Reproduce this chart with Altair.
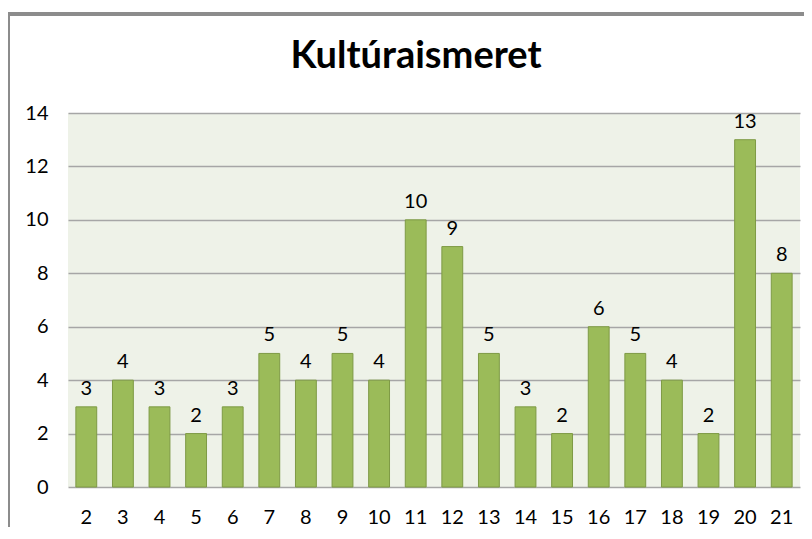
import altair as alt
import pandas as pd

title_text = "Kultúraismeret"
categories = [str(i) for i in range(2, 22)]
values = [3, 4, 3, 2, 3, 5, 4, 5, 4, 10, 9, 5, 3, 2, 6, 5, 4, 2, 13, 8]
y_ticks = [0, 2, 4, 6, 8, 10, 12, 14]

df = pd.DataFrame({"cat": categories, "val": values})
FONT = "Lato"

base = alt.Chart(df)

x_enc = alt.X("cat:N", sort=categories, title=None,
              scale=alt.Scale(paddingInner=0.43, paddingOuter=0.215),
              axis=alt.Axis(labelAngle=0, ticks=False, domain=False, labelPadding=20,
                            labelFontSize=20, labelFont=FONT, labelColor="#000000"))
y_enc = alt.Y("val:Q", title=None,
              scale=alt.Scale(domain=[0, 14]),
              axis=alt.Axis(values=y_ticks, ticks=False, domain=False, labelPadding=20,
                            labelFontSize=20, labelFont=FONT, labelColor="#000000",
                            gridColor="#a6a6a6", gridWidth=1.5))

bars = base.mark_bar(color="#9bbb59", stroke="#7e9a45", strokeWidth=1).encode(x=x_enc, y=y_enc)
labels = base.mark_text(baseline="bottom", dy=-8, fontSize=20, font=FONT, color="#000000").encode(
    x=alt.X("cat:N", sort=categories), y="val:Q", text="val:Q")

title = alt.Chart(pd.DataFrame({"t": [title_text]})).mark_text(
    font=FONT, fontSize=38, fontWeight="bold", color="#000000",
    align="center", baseline="alphabetic", clip=False).encode(
    text="t:N", x=alt.value(348), y=alt.value(-45))

border_left = base.mark_rule(color="#8c8c8c", strokeWidth=2.5, clip=False).encode(
    x=alt.value(-60), y=alt.value(-99), y2=alt.value(430))
border_top = base.mark_rule(color="#8c8c8c", strokeWidth=2.5, clip=False).encode(
    x=alt.value(-61), x2=alt.value(760), y=alt.value(-99))

chart = alt.layer(bars, labels, title, border_left, border_top).properties(
    width=732, height=374,
    autosize=alt.AutoSizeParams(type="none"),
    padding={"left": 60, "top": 105, "right": 4, "bottom": 40},
).configure_view(fill="#eef2e8", stroke=None)

chart.save("out.html", embed_options={"renderer": "svg", "actions": False})
